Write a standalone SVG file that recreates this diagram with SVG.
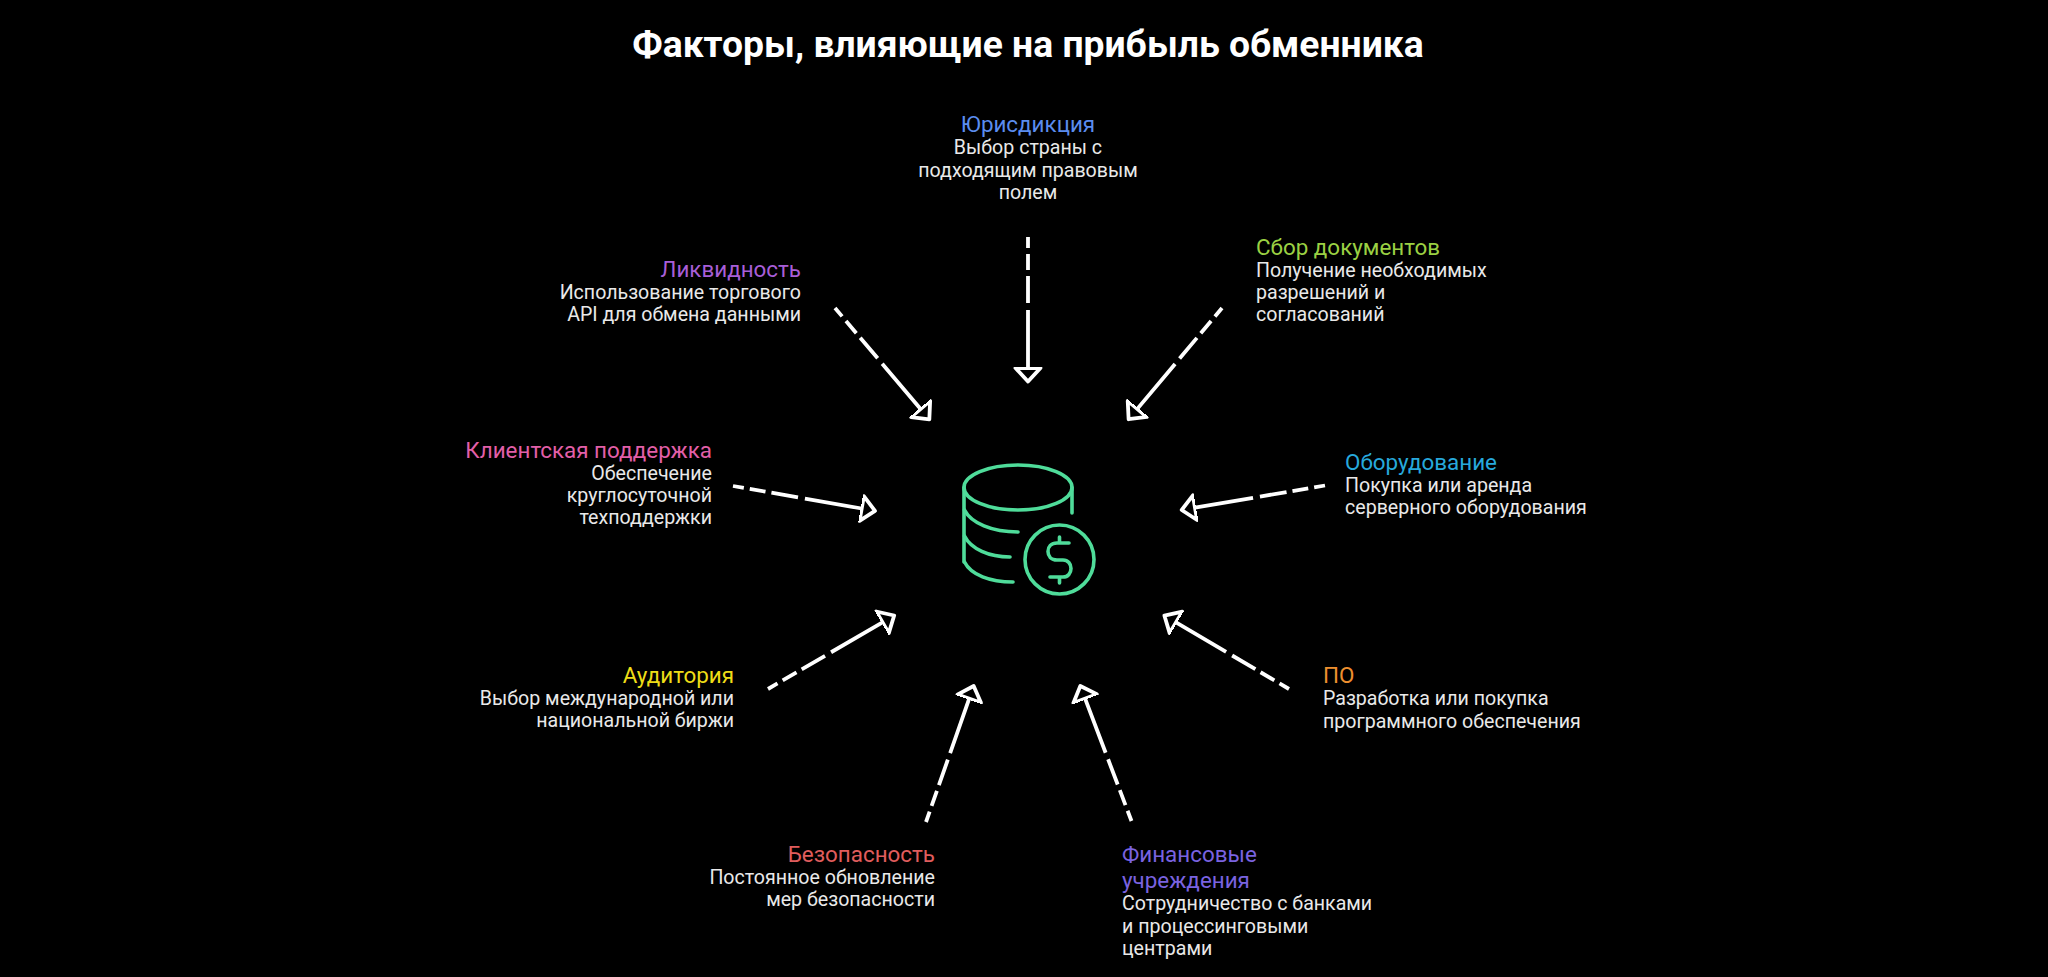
<svg xmlns="http://www.w3.org/2000/svg" width="2048" height="977" viewBox="0 0 2048 977">
<style>
text{font-family:Roboto,"Noto Sans",sans-serif}
.t{font-size:37.3px;font-weight:700;fill:#fff;text-anchor:middle}
.h{font-size:22.4px}
.b{font-size:19.6px;fill:#e9e9e9}
.e{text-anchor:end}.m{text-anchor:middle}
.c line{stroke:#fff;stroke-width:3.8;fill:none;stroke-dasharray:11 6 16 6 27 7 999;marker-end:url(#a)}
.i *{fill:none;stroke:#4fdc9a;stroke-width:3.6;stroke-linecap:round}
</style>
<defs><marker id="a" markerUnits="userSpaceOnUse" markerWidth="32" markerHeight="32" refX="1" refY="16" orient="auto" viewBox="0 0 32 32"><path d="M1 3.500L14.500 16L1 28.500Z" fill="none" stroke="#fff" stroke-width="3.800" stroke-linejoin="round"/></marker></defs>
<rect width="2048" height="977" fill="#000"/>
<text class="t" x="1028" y="57">Факторы, влияющие на прибыль обменника</text>
<g id="connectors" class="c">
<line x1="1028" y1="237" x2="1028" y2="368"/>
<line x1="835" y1="308" x2="920.6" y2="409"/>
<line x1="1222" y1="308" x2="1137.3" y2="408.9"/>
<line x1="733" y1="486" x2="861.7" y2="508.5"/>
<line x1="1325" y1="485.5" x2="1195" y2="507.7"/>
<line x1="1289" y1="689" x2="1176" y2="622.4"/>
<line x1="1131.5" y1="821" x2="1085.1" y2="698.6"/>
<line x1="768" y1="689" x2="882.5" y2="622.3"/>
<line x1="926" y1="822" x2="969.2" y2="698.7"/>
</g>
<g id="center" class="i">
<ellipse cx="1018" cy="487.500" rx="54" ry="22.5"/>
<path d="M964 487.500V562M1072 487.500V513"/>
<path d="M964.500 510C971 523 992 532 1018 532M964.500 536C971 549 989 557 1010 557M964.500 562C971 575 990 582 1013 582"/>
<circle cx="1059.5" cy="559.5" r="34.5"/>
<path d="M1069 543H1057C1051 543 1048 547 1048 551.500C1048 556 1051 560 1057 560H1063C1068 560 1071 564 1071 568.500C1071 573 1068 577 1063 577H1050M1059.500 537V543M1059.500 577V583"/>
</g>
<g id="n-jurisdiction" class="m"><text class="h m" x="1028" y="132" fill="#5b8def">Юрисдикция</text><text class="b m" x="1028" y="154">Выбор страны с</text><text class="b m" x="1028" y="177">подходящим правовым</text><text class="b m" x="1028" y="199">полем</text></g>
<g id="n-docs"><text class="h" x="1256" y="255" fill="#9bd143">Сбор документов</text><text class="b" x="1256" y="276.500">Получение необходимых</text><text class="b" x="1256" y="298.500">разрешений и</text><text class="b" x="1256" y="321">согласований</text></g>
<g id="n-liquidity"><text class="h e" x="801" y="277" fill="#a85ed8">Ликвидность</text><text class="b e" x="801" y="299">Использование торгового</text><text class="b e" x="801" y="321">API для обмена данными</text></g>
<g id="n-support"><text class="h e" x="712" y="458" fill="#e25fa8">Клиентская поддержка</text><text class="b e" x="712" y="480">Обеспечение</text><text class="b e" x="712" y="502">круглосуточной</text><text class="b e" x="712" y="524">техподдержки</text></g>
<g id="n-equipment"><text class="h" x="1345" y="469.500" fill="#27a9dc">Оборудование</text><text class="b" x="1345" y="491.500">Покупка или аренда</text><text class="b" x="1345" y="513.500">серверного оборудования</text></g>
<g id="n-audience"><text class="h e" x="734" y="683" fill="#eedd17">Аудитория</text><text class="b e" x="734" y="705">Выбор международной или</text><text class="b e" x="734" y="727">национальной биржи</text></g>
<g id="n-software"><text class="h" x="1323" y="683" fill="#ee8f2f">ПО</text><text class="b" x="1323" y="705">Разработка или покупка</text><text class="b" x="1323" y="727.500">программного обеспечения</text></g>
<g id="n-security"><text class="h e" x="935" y="862" fill="#e05d5d">Безопасность</text><text class="b e" x="935" y="884">Постоянное обновление</text><text class="b e" x="935" y="906">мер безопасности</text></g>
<g id="n-finance"><text class="h" x="1122" y="862" fill="#7a63e0">Финансовые</text><text class="h" x="1122" y="888" fill="#7a63e0">учреждения</text><text class="b" x="1122" y="910">Сотрудничество с банками</text><text class="b" x="1122" y="932.500">и процессинговыми</text><text class="b" x="1122" y="955">центрами</text></g>
</svg>
